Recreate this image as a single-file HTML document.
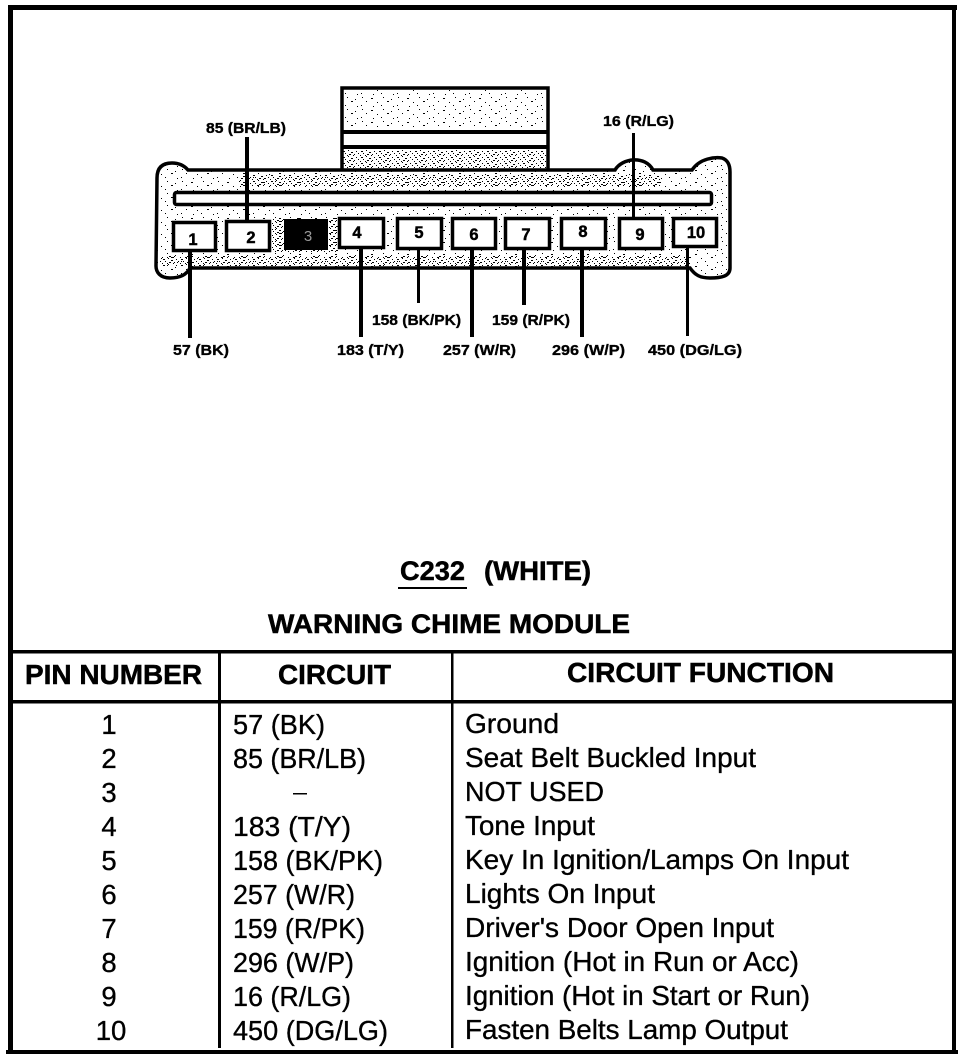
<!DOCTYPE html>
<html>
<head>
<meta charset="utf-8">
<style>
html,body{margin:0;padding:0;background:#fff;width:976px;height:1060px;overflow:hidden}
svg{display:block}
text{font-family:"Liberation Sans",Arial,sans-serif;fill:#000;stroke:#000}
.b{font-weight:bold;stroke-width:.5}
.l{font-weight:bold;font-size:15px;stroke-width:.35}
.d{font-weight:bold;font-size:16.500px;text-anchor:middle;stroke-width:.45}
.r{font-size:27.500px;stroke-width:.35}
.h{font-weight:bold;font-size:28px;stroke-width:.5}
</style>
</head>
<body>
<svg width="976" height="1060" viewBox="0 0 976 1060" xmlns="http://www.w3.org/2000/svg">
<defs>
<pattern id="st" width="36" height="12" patternUnits="userSpaceOnUse">
<g fill="#000">
<rect x="2" y="1" width="1" height="1"/><rect x="11" y="2" width="2" height="1"/><rect x="23" y="1" width="1" height="1"/><rect x="31" y="3" width="1" height="1"/>
<rect x="6" y="5" width="1" height="1"/><rect x="17" y="6" width="1" height="1"/><rect x="27" y="5" width="2" height="1"/>
<rect x="1" y="9" width="1" height="1"/><rect x="13" y="10" width="1" height="1"/><rect x="21" y="9" width="1" height="1"/><rect x="33" y="10" width="1" height="1"/>
</g>
</pattern>
<pattern id="sd" width="18" height="6" patternUnits="userSpaceOnUse">
<g fill="#000">
<rect x="1" y="1" width="2" height="1"/><rect x="6" y="0" width="1" height="1"/><rect x="9" y="2" width="2" height="1"/><rect x="14" y="1" width="1" height="1"/>
<rect x="3" y="3" width="1" height="1"/><rect x="7" y="4" width="2" height="1"/><rect x="12" y="4" width="1" height="1"/><rect x="16" y="3" width="1" height="1"/>
<rect x="0" y="5" width="1" height="1"/><rect x="5" y="5" width="1" height="1"/><rect x="11" y="5" width="1" height="1"/>
</g>
</pattern>
</defs>

<!-- outer frame -->
<rect x="8" y="5" width="949" height="5" fill="#000"/>
<rect x="8" y="5" width="5" height="1049" fill="#000"/>
<rect x="952" y="5" width="4" height="1047" fill="#000"/>
<rect x="6" y="1050" width="952" height="4" fill="#000"/>

<!-- top tab -->
<rect x="342" y="88" width="206" height="82" fill="#fff"/>
<rect x="343" y="90" width="203" height="38" fill="url(#st)"/>
<rect x="343" y="150" width="203" height="18" fill="url(#sd)"/>
<path d="M342 170V88H548V170" fill="none" stroke="#000" stroke-width="3.5"/>
<rect x="342" y="130" width="206" height="4" fill="#000"/>
<rect x="342" y="145" width="206" height="4" fill="#000"/>

<!-- connector body -->
<path d="M157 178 Q157 163 172 163 Q182 163 188 170 L615 170 C622 158 645 155 653 170 L692 170 C700 158 715 157 722 158 C728 160 730 165 730 172 L730 268 C730 276 722 278 710 278 C700 278 695 275 690 268 L190 268 C186 276 178 278 170 278 C160 278 156 272 156 266 Z" fill="#fff"/>
<path d="M157 178 Q157 163 172 163 Q182 163 188 170 L615 170 C622 158 645 155 653 170 L692 170 C700 158 715 157 722 158 C728 160 730 165 730 172 L730 268 C730 276 722 278 710 278 C700 278 695 275 690 268 L190 268 C186 276 178 278 170 278 C160 278 156 272 156 266 Z" fill="url(#st)"/>
<rect x="240" y="175" width="420" height="12" fill="url(#sd)"/>
<rect x="200" y="206" width="400" height="8" fill="url(#st)"/>
<rect x="160" y="256" width="530" height="10" fill="url(#sd)"/>
<rect x="272" y="218" width="66" height="34" fill="url(#sd)"/>
<path d="M157 178 Q157 163 172 163 Q182 163 188 170 L615 170 C622 158 645 155 653 170 L692 170 C700 158 715 157 722 158 C728 160 730 165 730 172 L730 268 C730 276 722 278 710 278 C700 278 695 275 690 268 L190 268 C186 276 178 278 170 278 C160 278 156 272 156 266 Z" fill="none" stroke="#000" stroke-width="3.5"/>

<!-- slot -->
<rect x="174.500" y="192.500" width="537" height="12" rx="2" fill="#fff" stroke="#000" stroke-width="3.500"/>

<!-- pins -->
<g fill="#fff" stroke="#000" stroke-width="3.500">
<rect x="173.500" y="222.500" width="42" height="28"/>
<rect x="226.500" y="221.500" width="43" height="29"/>
<rect x="339.500" y="218.500" width="44" height="29"/>
<rect x="397.500" y="218.500" width="44" height="30"/>
<rect x="452.500" y="218.500" width="43" height="30"/>
<rect x="505.500" y="218.500" width="44" height="30"/>
<rect x="561.500" y="218.500" width="44" height="30"/>
<rect x="619.500" y="218.500" width="43" height="30"/>
<rect x="673.500" y="218.500" width="43" height="28"/>
</g>
<rect x="284" y="219" width="44" height="31" fill="#000"/>

<!-- pin digits -->
<text class="d" x="193" y="245">1</text>
<text class="d" x="251" y="243">2</text>
<text x="308" y="241" font-size="15" text-anchor="middle" style="fill:#999;stroke:none">3</text>
<text class="d" x="357" y="238">4</text>
<text class="d" x="419" y="238">5</text>
<text class="d" x="474" y="240">6</text>
<text class="d" x="526" y="240">7</text>
<text class="d" x="583" y="237">8</text>
<text class="d" x="640" y="240">9</text>
<text class="d" x="696" y="238">10</text>

<!-- wires -->
<g fill="#000">
<rect x="245" y="137" width="4" height="83"/>
<rect x="188" y="252" width="4" height="86"/>
<rect x="359" y="249" width="4" height="88"/>
<rect x="417" y="250" width="3" height="53"/>
<rect x="470" y="250" width="4" height="87"/>
<rect x="522" y="250" width="4" height="55"/>
<rect x="580" y="250" width="4" height="87"/>
<rect x="632" y="133" width="3" height="84"/>
<rect x="686" y="248" width="3" height="88"/>
</g>

<!-- wire labels -->
<text class="l" x="206" y="133" textLength="80" lengthAdjust="spacingAndGlyphs">85 (BR/LB)</text>
<text class="l" x="603" y="126" textLength="71" lengthAdjust="spacingAndGlyphs">16 (R/LG)</text>
<text class="l" x="372" y="325" textLength="89" lengthAdjust="spacingAndGlyphs">158 (BK/PK)</text>
<text class="l" x="492" y="325" textLength="78" lengthAdjust="spacingAndGlyphs">159 (R/PK)</text>
<text class="l" x="173" y="355" textLength="56" lengthAdjust="spacingAndGlyphs">57 (BK)</text>
<text class="l" x="337" y="355" textLength="67" lengthAdjust="spacingAndGlyphs">183 (T/Y)</text>
<text class="l" x="443" y="355" textLength="73" lengthAdjust="spacingAndGlyphs">257 (W/R)</text>
<text class="l" x="552" y="355" textLength="73" lengthAdjust="spacingAndGlyphs">296 (W/P)</text>
<text class="l" x="648" y="355" textLength="94" lengthAdjust="spacingAndGlyphs">450 (DG/LG)</text>

<!-- titles -->
<text class="b" x="400" y="580" font-size="27" textLength="65" lengthAdjust="spacingAndGlyphs">C232</text>
<rect x="398" y="587" width="69" height="2" fill="#000"/>
<text class="b" x="484" y="580" font-size="27" textLength="107" lengthAdjust="spacingAndGlyphs">(WHITE)</text>
<text class="b" x="268" y="633" font-size="27" textLength="362" lengthAdjust="spacingAndGlyphs">WARNING CHIME MODULE</text>

<!-- table lines -->
<rect x="8" y="650" width="948" height="3.500" fill="#000"/>
<rect x="8" y="700" width="948" height="3.500" fill="#000"/>
<rect x="218" y="652" width="3" height="396" fill="#000"/>
<rect x="451" y="652" width="2.500" height="396" fill="#000"/>

<!-- header -->
<text class="h" x="25" y="684" textLength="177" lengthAdjust="spacingAndGlyphs">PIN NUMBER</text>
<text class="h" x="278" y="684" textLength="113" lengthAdjust="spacingAndGlyphs">CIRCUIT</text>
<text class="h" x="567" y="682" textLength="267" lengthAdjust="spacingAndGlyphs">CIRCUIT FUNCTION</text>

<!-- pin numbers -->
<text class="r" text-anchor="middle" x="109" y="734">1</text>
<text class="r" text-anchor="middle" x="109" y="768">2</text>
<text class="r" text-anchor="middle" x="109" y="802">3</text>
<text class="r" text-anchor="middle" x="109" y="836">4</text>
<text class="r" text-anchor="middle" x="109" y="870">5</text>
<text class="r" text-anchor="middle" x="109" y="904">6</text>
<text class="r" text-anchor="middle" x="109" y="938">7</text>
<text class="r" text-anchor="middle" x="109" y="972">8</text>
<text class="r" text-anchor="middle" x="109" y="1006">9</text>
<text class="r" text-anchor="middle" x="111" y="1040">10</text>

<!-- circuits -->
<text class="r" x="233" y="734" textLength="92" lengthAdjust="spacingAndGlyphs">57 (BK)</text>
<text class="r" x="233" y="768" textLength="133" lengthAdjust="spacingAndGlyphs">85 (BR/LB)</text>
<rect x="293" y="793" width="14" height="1.500" fill="#000"/>
<text class="r" x="233" y="836" textLength="118" lengthAdjust="spacingAndGlyphs">183 (T/Y)</text>
<text class="r" x="233" y="870" textLength="150" lengthAdjust="spacingAndGlyphs">158 (BK/PK)</text>
<text class="r" x="233" y="904" textLength="122" lengthAdjust="spacingAndGlyphs">257 (W/R)</text>
<text class="r" x="233" y="938" textLength="132" lengthAdjust="spacingAndGlyphs">159 (R/PK)</text>
<text class="r" x="233" y="972" textLength="121" lengthAdjust="spacingAndGlyphs">296 (W/P)</text>
<text class="r" x="233" y="1006" textLength="118" lengthAdjust="spacingAndGlyphs">16 (R/LG)</text>
<text class="r" x="233" y="1040" textLength="155" lengthAdjust="spacingAndGlyphs">450 (DG/LG)</text>

<!-- functions -->
<text class="r" x="465" y="733" textLength="94" lengthAdjust="spacingAndGlyphs">Ground</text>
<text class="r" x="465" y="767" textLength="291" lengthAdjust="spacingAndGlyphs">Seat Belt Buckled Input</text>
<text class="r" x="465" y="801" textLength="139" lengthAdjust="spacingAndGlyphs">NOT USED</text>
<text class="r" x="465" y="835" textLength="130" lengthAdjust="spacingAndGlyphs">Tone Input</text>
<text class="r" x="465" y="869" textLength="384" lengthAdjust="spacingAndGlyphs">Key In Ignition/Lamps On Input</text>
<text class="r" x="465" y="903" textLength="190" lengthAdjust="spacingAndGlyphs">Lights On Input</text>
<text class="r" x="465" y="937" textLength="309" lengthAdjust="spacingAndGlyphs">Driver's Door Open Input</text>
<text class="r" x="465" y="971" textLength="334" lengthAdjust="spacingAndGlyphs">Ignition (Hot in Run or Acc)</text>
<text class="r" x="465" y="1005" textLength="345" lengthAdjust="spacingAndGlyphs">Ignition (Hot in Start or Run)</text>
<text class="r" x="465" y="1039" textLength="323" lengthAdjust="spacingAndGlyphs">Fasten Belts Lamp Output</text>
</svg>
</body>
</html>
